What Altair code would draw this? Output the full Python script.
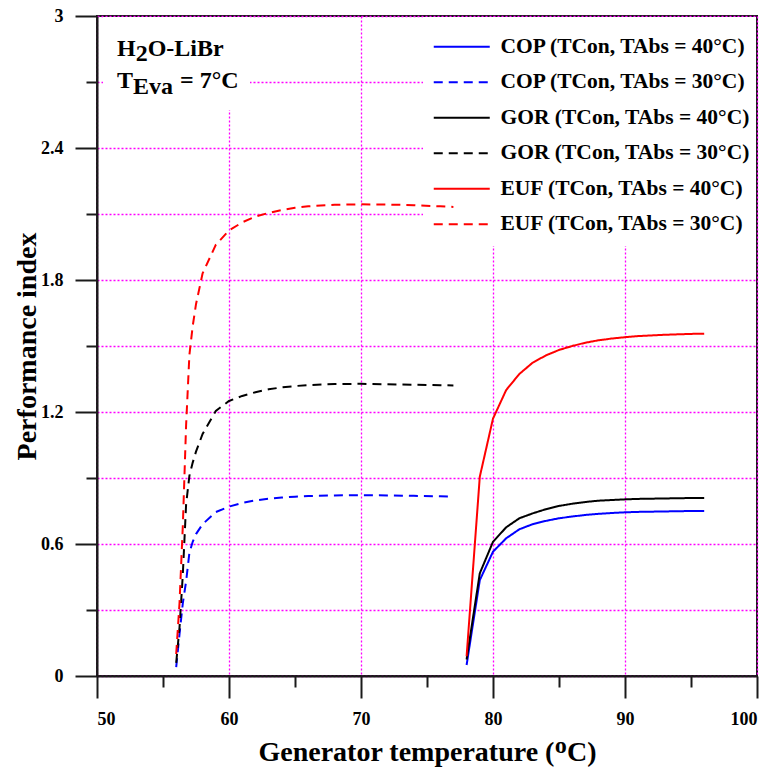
import altair as alt
import pandas as pd

# ---- data ----
temp_30 = [56, 56.25, 56.5, 56.75, 57, 57.25, 57.5, 58, 59, 60, 61, 62, 63, 64, 65, 66, 68, 70, 72, 74, 76, 77]
cop_30 = [0.04, 0.19, 0.33, 0.43, 0.56, 0.61, 0.645, 0.69, 0.745, 0.77, 0.787, 0.798, 0.806, 0.811, 0.815,
          0.818, 0.821, 0.822, 0.821, 0.819, 0.817, 0.816]
gor_30 = [0.06, 0.22, 0.46, 0.78, 0.91, 0.97, 1.02, 1.10, 1.205, 1.25, 1.273, 1.29, 1.303, 1.312, 1.318,
          1.322, 1.327, 1.328, 1.326, 1.324, 1.322, 1.321]
euf_30 = [0.10, 0.33, 0.68, 1.14, 1.46, 1.59, 1.69, 1.83, 1.96, 2.025, 2.062, 2.088, 2.105, 2.118, 2.128,
          2.135, 2.142, 2.144, 2.143, 2.14, 2.135, 2.132]

temp_40 = [78, 79, 80, 81, 82, 83, 84, 85, 86, 87, 88, 89, 90, 91, 92, 93, 94, 95, 96]
cop_40 = [0.05, 0.436, 0.565, 0.626, 0.667, 0.69, 0.705, 0.717, 0.725, 0.732, 0.737, 0.741, 0.744, 0.746,
          0.747, 0.748, 0.749, 0.75, 0.75]
gor_40 = [0.075, 0.467, 0.61, 0.676, 0.717, 0.739, 0.758, 0.773, 0.783, 0.791, 0.797, 0.8, 0.803, 0.805,
          0.806, 0.807, 0.808, 0.809, 0.809]
euf_40 = [0.09, 0.906, 1.17, 1.30, 1.373, 1.424, 1.457, 1.482, 1.50, 1.515, 1.526, 1.534, 1.54, 1.545,
          1.548, 1.551, 1.553, 1.555, 1.556]

series_names = [
    "COP (TCon, TAbs = 40°C)",
    "COP (TCon, TAbs = 30°C)",
    "GOR (TCon, TAbs = 40°C)",
    "GOR (TCon, TAbs = 30°C)",
    "EUF (TCon, TAbs = 40°C)",
    "EUF (TCon, TAbs = 30°C)",
]
series_colors = ["#0000FF", "#0000FF", "#000000", "#000000", "#FF0000", "#FF0000"]
series_dashes = [[1, 0], [9, 6], [1, 0], [9, 6], [1, 0], [9, 6]]

x_ticks = [50, 55, 60, 65, 70, 75, 80, 85, 90, 95, 100]
y_ticks = [0, 0.3, 0.6, 0.9, 1.2, 1.5, 1.8, 2.1, 2.4, 2.7, 3]

x_title = "Generator temperature (ᴼC)"
y_title = "Performance index"

note_line1 = ["H", "2", "O-LiBr"]
note_line2 = ["T", "Eva", "= 7°C"]

# ---- build table ----
rows = []
series_data = [
    (series_names[0], temp_40, cop_40),
    (series_names[1], temp_30, cop_30),
    (series_names[2], temp_40, gor_40),
    (series_names[3], temp_30, gor_30),
    (series_names[4], temp_40, euf_40),
    (series_names[5], temp_30, euf_30),
]
for name, xs, ys in series_data:
    for t, v in zip(xs, ys):
        rows.append({"series": name, "temp": t, "value": v})
df = pd.DataFrame(rows)

FONT = "Liberation Serif"
GRID = "#FF00FF"
AX = "#1a1a1a"

x_axis = alt.Axis(
    values=x_ticks,
    title=x_title,
    labelExpr="datum.value % 10 == 0 ? datum.label : ''",
    tickSize={"condition": {"test": "datum.value % 10 == 0", "value": 22}, "value": 11},
    gridOpacity={"condition": {"test": "datum.value % 10 == 0", "value": 1}, "value": 0},
    labelPadding=12,
    titlePadding=10,
)
y_axis = alt.Axis(
    values=y_ticks,
    title=y_title,
    labelExpr="round(datum.value * 10) % 6 == 0 ? format(datum.value, '~g') : ''",
    tickSize={"condition": {"test": "round(datum.value * 10) % 6 == 0", "value": 22}, "value": 11},
    labelPadding=12,
    titlePadding=-1,
)

base = alt.Chart(df)

lines = base.mark_line(strokeWidth=2).encode(
    x=alt.X("temp:Q", scale=alt.Scale(domain=[50, 100], nice=False, zero=False), axis=x_axis),
    y=alt.Y("value:Q", scale=alt.Scale(domain=[0, 3], nice=False, zero=False), axis=y_axis),
    color=alt.Color("series:N", scale=alt.Scale(domain=series_names, range=series_colors),
                    legend=alt.Legend(title=None)),
    strokeDash=alt.StrokeDash("series:N", scale=alt.Scale(domain=series_names, range=series_dashes),
                              legend=alt.Legend(title=None)),
    order="temp:Q",
)

one = pd.DataFrame({"k": [0]})
legend_box = alt.Chart(one).mark_rect(fill="white", stroke=None).encode(
    x=alt.value(326), x2=alt.value(659), y=alt.value(1), y2=alt.value(230)
)
note_box = alt.Chart(one).mark_rect(fill="white", stroke=None).encode(
    x=alt.value(6), x2=alt.value(153), y=alt.value(1), y2=alt.value(94)
)


def piece(txt, x, y):
    return alt.Chart(one).mark_text(
        align="left", baseline="alphabetic", font=FONT, fontSize=24, fontWeight="bold", color="black"
    ).encode(x=alt.value(x), y=alt.value(y), text=alt.value(txt))


notes = [
    piece(note_line1[0], 20, 40),
    piece(note_line1[1], 38.7, 45),
    piece(note_line1[2], 50.7, 40),
    piece(note_line2[0], 20, 72),
    piece(note_line2[1], 36, 78),
    piece(note_line2[2], 83, 72),
]

chart = alt.layer(legend_box, note_box, lines, *notes).properties(
    width=660,
    height=660,
    autosize=alt.AutoSizeParams(type="none"),
    padding={"left": 97, "top": 16, "right": 15, "bottom": 96},
).configure_view(
    stroke=AX, strokeWidth=2
).configure_axis(
    domainColor=AX, domainWidth=2, tickColor=AX, tickWidth=2,
    labelFont=FONT, labelFontWeight="bold", labelFontSize=18, labelColor="black",
    titleFont=FONT, titleFontWeight="bold", titleFontSize=28, titleColor="black",
    gridColor=GRID, gridDash=[2, 2], gridWidth=1.3,
).configure_legend(
    orient="none", legendX=354, legendY=20,
    labelFont=FONT, labelFontWeight="bold", labelFontSize=21.5, labelColor="black", labelLimit=400,
    symbolType="M-4,0H4", symbolSize=196, symbolStrokeWidth=2, labelOffset=28,
    rowPadding=12.5, padding=0,
)

chart.save("out.html", embed_options={"renderer": "svg", "actions": False})
